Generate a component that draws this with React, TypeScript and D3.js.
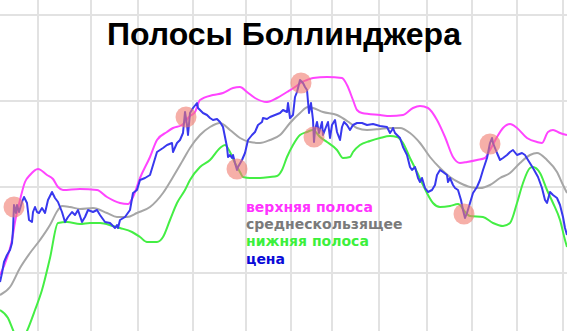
import React from "react";
import * as d3 from "d3";

const W = 567;
const H = 331;

const title = "Полосы Боллинджера";
const legendLabels = ["верхняя полоса", "среднескользящее", "нижняя полоса", "цена"];

// [time index, value]
const upperBand: [number, number][] = [
  [0,56],[7,73],[12,91],[15,109],[20,131],[25,149],[30,156],[38,162],[47,156],[53,152],[58,144],[63,141],[80,142],[97,141],[107,134],[120,128],[128,127],[133,134],[140,153],[150,174],[157,191],[167,199],[173,203],[182,206],[190,215],[195,219],[200,231],[213,236],[223,238],[233,243],[240,244],[247,239],[255,233],[267,229],[277,233],[287,239],[295,244],[302,249],[307,251],[313,253],[327,254],[342,253],[347,246],[353,231],[357,221],[362,218],[380,216],[390,215],[403,216],[413,223],[420,225],[428,223],[437,211],[445,194],[453,174],[460,168],[467,169],[477,171],[485,173],[490,181],[497,194],[503,203],[510,207],[517,203],[527,193],[537,189],[542,188],[548,199],[553,201],[560,198],[567,196],
];

const middleBand: [number, number][] = [
  [0,36],[10,44],[20,63],[30,78],[40,91],[50,106],[58,121],[62,125],[70,124],[80,122],[93,123],[107,118],[117,114],[127,114],[137,118],[150,124],[163,138],[173,154],[183,171],[190,183],[200,196],[210,204],[220,208],[230,201],[240,193],[250,189],[260,188],[270,191],[280,196],[290,208],[300,218],[308,224],[313,223],[323,219],[337,216],[350,208],[357,203],[367,201],[380,202],[390,203],[400,203],[410,198],[420,188],[430,174],[440,163],[450,154],[460,148],[470,144],[480,143],[490,146],[500,153],[510,158],[520,168],[530,176],[537,178],[547,171],[557,159],[563,146],[567,138],
];

const lowerBand: [number, number][] = [
  [0,21],[8,13],[13,1],[20,-14],[27,0],[35,21],[42,41],[50,73],[58,108],[67,109],[80,107],[90,108],[100,108],[113,105],[120,103],[132,99],[140,94],[147,89],[157,89],[163,94],[170,111],[177,128],[185,141],[190,151],[200,164],[210,171],[220,183],[225,186],[230,179],[235,168],[240,159],[243,154],[250,153],[260,153],[270,154],[277,155],[282,161],[287,174],[293,186],[300,196],[307,199],[313,201],[320,194],[327,189],[337,181],[343,173],[350,174],[353,179],[360,186],[370,190],[380,193],[390,195],[397,194],[403,188],[410,173],[417,159],[423,146],[428,136],[433,128],[440,124],[450,125],[458,127],[466,118],[470,115],[483,114],[493,108],[503,105],[510,108],[517,128],[523,148],[530,163],[533,164],[540,158],[547,141],[553,128],[560,111],[565,91],[567,84],
];

const price: [number, number][] = [
  [0,49],[2,58],[4,69],[7,76],[10,81],[12,88],[13,101],[14,126],[16,118],[17,126],[19,119],[22,129],[24,134],[27,128],[29,111],[32,109],[33,119],[35,124],[37,119],[39,118],[42,123],[45,118],[48,131],[52,139],[55,133],[58,129],[62,119],[65,109],[68,114],[72,119],[75,116],[78,121],[82,109],[85,114],[88,121],[93,119],[97,121],[100,116],[105,109],[110,108],[115,103],[117,106],[118,103],[120,111],[125,114],[130,121],[133,138],[137,141],[140,151],[145,153],[150,156],[157,179],[160,181],[163,183],[167,186],[172,188],[173,179],[177,188],[180,191],[183,198],[185,219],[187,206],[188,196],[190,218],[193,223],[197,228],[198,223],[203,218],[207,216],[210,213],[213,211],[217,212],[220,209],[223,204],[227,184],[228,174],[230,176],[232,173],[233,176],[235,168],[237,161],[238,164],[242,171],[245,178],[248,191],[252,196],[255,199],[258,206],[262,209],[263,213],[267,212],[270,214],[275,216],[280,218],[283,221],[287,219],[288,228],[290,213],[293,216],[295,234],[297,239],[300,251],[303,248],[305,244],[307,241],[309,218],[311,228],[313,211],[314,189],[315,201],[317,209],[319,198],[322,209],[323,196],[326,204],[328,209],[330,193],[332,206],[335,211],[337,199],[340,191],[342,204],[344,209],[347,206],[350,201],[353,206],[357,208],[362,208],[367,206],[373,207],[380,205],[387,204],[390,198],[392,201],[393,203],[395,198],[400,193],[403,184],[407,176],[410,164],[412,161],[415,164],[418,153],[420,149],[422,153],[425,143],[428,139],[432,141],[435,146],[437,156],[440,161],[443,159],[447,156],[448,149],[450,153],[453,146],[455,143],[458,141],[461,131],[463,121],[465,113],[467,118],[470,128],[473,138],[477,144],[480,151],[483,161],[487,173],[490,188],[492,193],[493,188],[497,178],[500,171],[503,173],[507,176],[510,179],[513,181],[517,176],[522,178],[525,176],[528,171],[533,163],[538,154],[542,143],[545,131],[547,128],[550,139],[553,136],[557,133],[560,126],[563,114],[565,103],[567,96],
];

const signals: [number, number][] = [
  [14,124],[186,214],[237,162],[301,248],[314,194],[464,117],[490,187],
];

const gridTimes = [38, 91, 138, 193, 246, 291, 332, 379, 427, 472, 517, 563];
const gridValues = [316, 230, 144, 58];

export default function App() {
  const x = d3.scaleLinear().domain([0, 567]).range([0, W]);
  const y = d3.scaleLinear().domain([0, 331]).range([H, 0]);

  const smooth = d3
    .line<[number, number]>()
    .x((d) => x(d[0]))
    .y((d) => y(d[1]))
    .curve(d3.curveMonotoneX);
  const jag = d3
    .line<[number, number]>()
    .x((d) => x(d[0]))
    .y((d) => y(d[1]))
    .curve(d3.curveLinear);

  const legendColors = ["#ff33ff", "#7a7a7a", "#3cf03c", "#0a0ad8"];

  return (
    <svg
      width={W}
      height={H}
      style={{ position: "absolute", left: 0, top: 0, background: "#fff" }}
    >
      <g stroke="#e2e2e2" strokeWidth={2}>
        {gridTimes.map((t) => (
          <line key={"v" + t} x1={x(t)} x2={x(t)} y1={0} y2={H} />
        ))}
        {gridValues.map((v) => (
          <line key={"h" + v} x1={0} x2={W} y1={y(v)} y2={y(v)} />
        ))}
      </g>
      <text
        x={284}
        y={45}
        textAnchor="middle"
        fontFamily="'Liberation Sans', Arial, sans-serif"
        fontWeight="bold"
        fontSize={32}
        fill="#000"
      >
        {title}
      </text>
      <g fill="none" strokeWidth={2} strokeLinejoin="round">
        <path d={smooth(upperBand) || ""} stroke="#ff44ff" />
        <path d={smooth(middleBand) || ""} stroke="#a6a6a6" />
        <path d={smooth(lowerBand) || ""} stroke="#44ee44" />
        <path d={jag(price) || ""} stroke="#3838ee" />
      </g>
      <g fill="#f07a6e" fillOpacity={0.6}>
        {signals.map((s, i) => (
          <circle key={i} cx={x(s[0])} cy={y(s[1])} r={10.5} />
        ))}
      </g>
      <g fontFamily="'DejaVu Sans', Verdana, sans-serif" fontWeight="bold" fontSize={14}>
        {legendLabels.map((l, i) => (
          <text key={l} x={246} y={212 + i * 17.2} fill={legendColors[i]}>
            {l}
          </text>
        ))}
      </g>
    </svg>
  );
}
